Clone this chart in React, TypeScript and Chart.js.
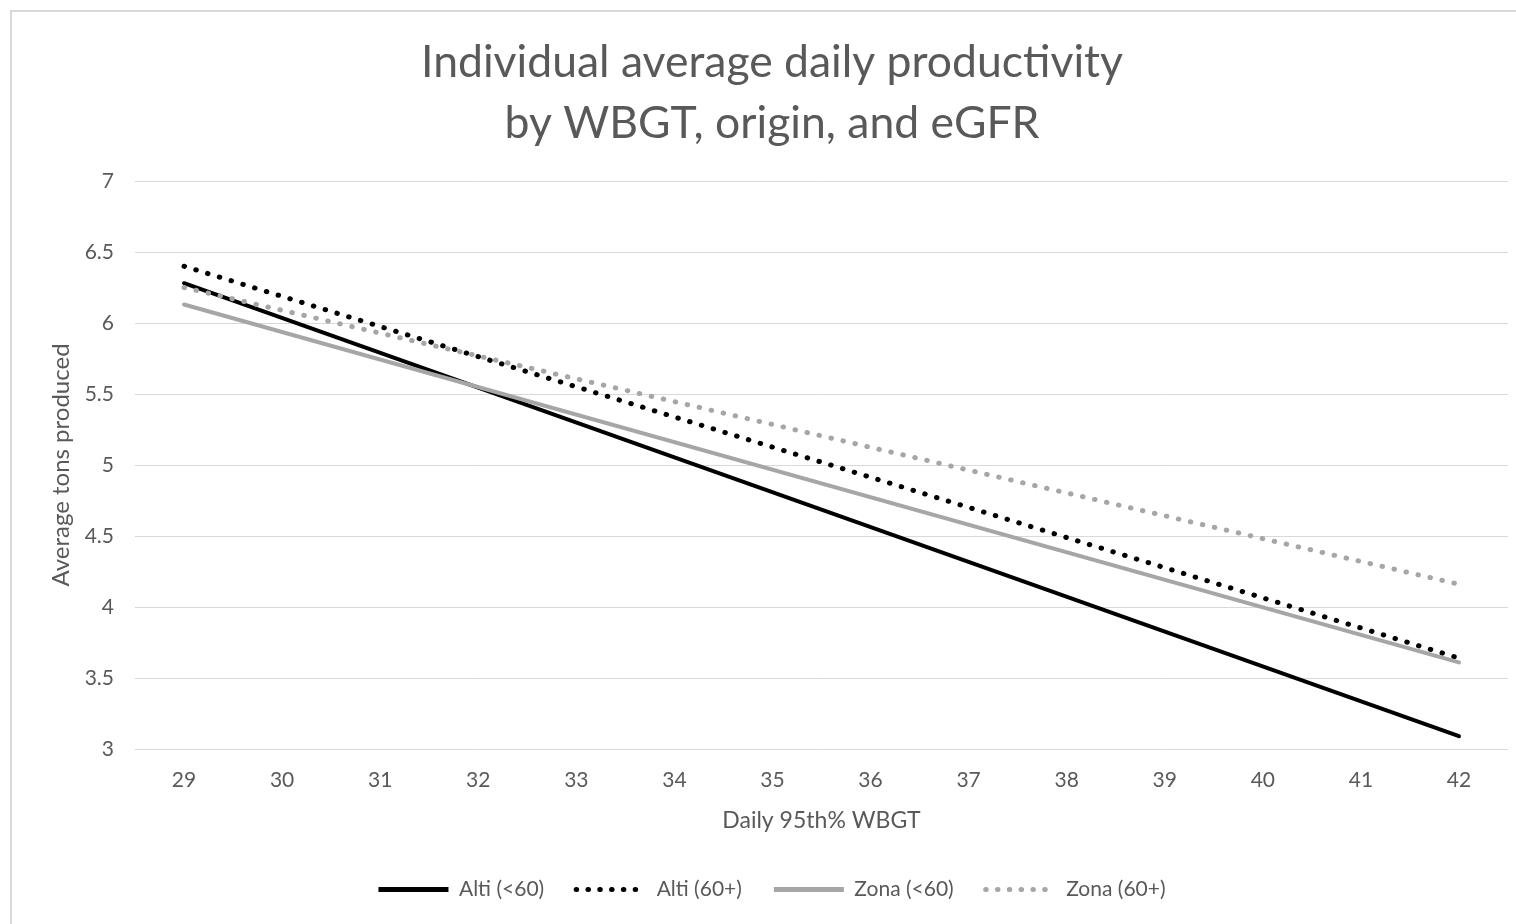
import React, { useEffect, useRef } from 'react';
import { Chart, registerables } from 'chart.js';

Chart.register(...registerables);

// ---- data ----
const TITLE_LINES = ['Individual average daily productivity', 'by WBGT, origin, and eGFR'];
const X_TITLE = 'Daily 95th% WBGT';
const Y_TITLE = 'Average tons produced';
const X_TICKS = [29, 30, 31, 32, 33, 34, 35, 36, 37, 38, 39, 40, 41, 42];
const Y_TICKS = [3, 3.5, 4, 4.5, 5, 5.5, 6, 6.5, 7];
const WBGT = [29, 42];
const ALTI_UNDER_60 = [6.28, 3.09];
const ALTI_60_PLUS = [6.40, 3.64];
const ZONA_UNDER_60 = [6.13, 3.61];
const ZONA_60_PLUS = [6.25, 4.16];
const SERIES_NAMES = ['Alti (<60)', 'Alti (60+)', 'Zona (<60)', 'Zona (60+)'];

const FONT = "Lato, 'Open Sans', sans-serif";
const TEXT = '#595959';
const BLACK = '#000000';
const GRAY = '#a6a6a6';

export default function App() {
  const ref = useRef<HTMLCanvasElement>(null);

  useEffect(() => {
    if (!ref.current) return;
    const pts = (ys: number[]) => WBGT.map((x, i) => ({ x, y: ys[i] }));
    const dotted = [0.5, 11.8];
    const seriesValues = [ALTI_UNDER_60, ALTI_60_PLUS, ZONA_UNDER_60, ZONA_60_PLUS];
    const colors = [BLACK, BLACK, GRAY, GRAY];
    const dashed = [false, true, false, true];

    const datasets = seriesValues.map((vals, i) => ({
      label: SERIES_NAMES[i],
      data: pts(vals),
      borderColor: colors[i],
      backgroundColor: colors[i],
      borderWidth: dashed[i] ? 5 : 4,
      borderDash: dashed[i] ? dotted : [],
      borderCapStyle: 'round',
      pointRadius: 0,
      tension: 0,
      fill: false,
      order: seriesValues.length - i,
    }));

    const chart = new Chart(ref.current, {
      type: 'line',
      data: { datasets } as any,
      options: {
        responsive: false,
        animation: false,
        devicePixelRatio: 1,
        layout: { padding: { left: 12, top: 12, right: 0, bottom: 14 } },
        plugins: {
          tooltip: { enabled: false },
          title: {
            display: true,
            text: TITLE_LINES,
            color: TEXT,
            font: { family: FONT, size: 44.5, weight: 'normal', lineHeight: 61 / 44.5 },
            padding: { top: 20, bottom: 27 },
          },
          legend: {
            position: 'bottom',
            labels: {
              color: TEXT,
              font: { family: FONT, size: 21 },
              usePointStyle: true,
              pointStyle: 'line',
              pointStyleWidth: 70,
              padding: 32,
              sort: (a: any, b: any) => a.datasetIndex - b.datasetIndex,
              generateLabels: (c: any) => {
                const items = Chart.defaults.plugins.legend.labels.generateLabels(c);
                items.forEach((it: any) => {
                  const d = dashed[it.datasetIndex];
                  it.lineDash = d ? [0.5, 11.3] : [];
                  it.lineWidth = d ? 5 : 5;
                  it.lineCap = d ? 'round' : 'butt';
                  it.pointStyle = 'line';
                });
                return items;
              },
            },
          },
        },
        scales: {
          x: {
            type: 'linear',
            min: 28.5,
            max: 42.5,
            afterBuildTicks: (s: any) => {
              s.ticks = X_TICKS.map((v) => ({ value: v }));
            },
            afterFit: (s: any) => {
              s.height = 98;
            },
            ticks: {
              color: TEXT,
              font: { family: FONT, size: 21 },
              padding: 19,
              autoSkip: false,
              maxRotation: 0,
              callback: (v: any) => String(v),
            },
            grid: { display: false, drawTicks: false },
            border: { display: false },
            title: {
              display: true,
              text: X_TITLE,
              color: TEXT,
              font: { family: FONT, size: 23 },
              padding: { top: 0, bottom: 13 },
            },
          },
          y: {
            type: 'linear',
            min: 3,
            max: 7,
            afterBuildTicks: (s: any) => {
              s.ticks = Y_TICKS.map((v) => ({ value: v }));
            },
            afterFit: (s: any) => {
              s.width = 123;
            },
            ticks: {
              color: TEXT,
              font: { family: FONT, size: 21 },
              padding: 21,
              callback: (v: any) => String(v),
            },
            grid: { color: '#d9d9d9', lineWidth: 1, drawTicks: false },
            border: { display: false },
            title: {
              display: true,
              text: Y_TITLE,
              color: TEXT,
              font: { family: FONT, size: 24 },
              padding: { top: 35, bottom: 0 },
            },
          },
          y2: {
            type: 'linear',
            position: 'right',
            display: true,
            min: 3,
            max: 7,
            afterFit: (s: any) => {
              s.width = 24;
            },
            ticks: { display: false },
            grid: { display: false, drawTicks: false },
            border: { display: false },
          },
        },
      } as any,
    });

    return () => chart.destroy();
  }, []);

  return (
    <div
      style={{
        position: 'fixed',
        left: 0,
        top: 0,
        width: 1516,
        height: 924,
        overflow: 'hidden',
        background: '#ffffff',
      }}
    >
      <div
        style={{
          position: 'absolute',
          left: 10,
          top: 10,
          width: 2000,
          height: 2000,
          borderLeft: '2px solid #d9d9d9',
          borderTop: '2px solid #d9d9d9',
        }}
      />
      <canvas
        ref={ref}
        width={1532}
        height={924}
        style={{ position: 'absolute', left: 0, top: 0, width: 1532, height: 924 }}
      />
    </div>
  );
}
